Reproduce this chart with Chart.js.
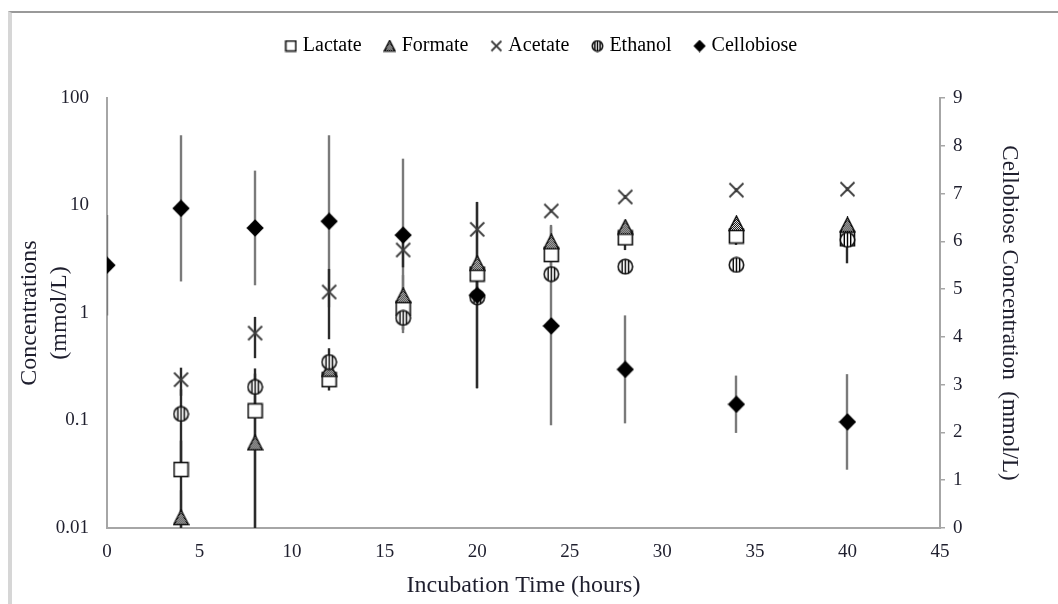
<!DOCTYPE html>
<html>
<head>
<meta charset="utf-8">
<script src="https://cdn.jsdelivr.net/npm/chart.js@4.4.1/dist/chart.umd.min.js"></script>
<style>
    html, body { margin: 0; padding: 0; background: #fff; }
    #wrap { position: relative; width: 1058px; height: 604px; overflow: hidden; }
    #frame {
        position: absolute; left: 8px; top: 11px; right: -4px; bottom: -4px;
        border-top: 2px solid #999; border-left: 4px solid #d6d6d6;
    }
    #chart { position: absolute; left: 0; top: 0; }
</style>
</head>
<body>
<div id="wrap">
    <div id="frame"></div>
    <canvas id="chart" width="1058" height="604"></canvas>
</div>
<script>
// sampling times (hours)
const times = [0, 4, 8, 12, 16, 20, 24, 28, 34, 40];

// fermentation products, mmol/L (left, log axis)
const lactate = [null, 0.035, 0.123, 0.24, 1.1, 2.3, 3.5, 5.0, 5.2, 4.9];
const formate = [null, 0.0125, 0.062, 0.3, 1.45, 2.9, 4.6, 6.3, 6.8, 6.6];
const acetate = [null, 0.24, 0.65, 1.57, 3.86, 6.0, 8.9, 12.0, 13.9, 14.2];
const ethanol = [null, 0.115, 0.205, 0.35, 0.9, 1.4, 2.3, 2.7, 2.8, 4.8];

const lactateErr = [null, 0.03, 0.15, 0.05, 0.3, 0.3, 0.5, 1.15, 0.9, 0.3];
const formateErr = [null, 0.01, 0.07, 0.05, 0.8, 0.4, 2.0, 0.4, 0.4, 0.4];
const acetateErr = [null, 0.07, 0.27, 1.0, 1.2, 4.8, 0.3, 0.5, 0.6, 0.6];
const ethanolErr = [null, 0.08, 0.1, 0.12, 0.2, 1.2, 0.3, 0.15, 0.15, 1.9];

// cellobiose, mmol/L (right, linear axis)
const cellobiose = [5.5, 6.69, 6.28, 6.42, 6.13, 4.87, 4.23, 3.32, 2.59, 2.22];
const cellobioseErr = [1.05, 1.53, 1.2, 1.8, 1.6, 1.95, 2.08, 1.13, 0.6, 1.0];

const concTicks = [0.01, 0.1, 1, 10, 100];

const serif = "'Liberation Serif', 'Times New Roman', serif";
const textColor = '#1f1f2e';
const axisColor = '#a6a6a6';

// little canvases used as point styles
function marker(kind, s) {
    const c = document.createElement('canvas');
    c.width = c.height = s + 2;
    const g = c.getContext('2d');
    const m = (s + 2) / 2;
    g.strokeStyle = '#111';
    g.lineWidth = 1.6;
    if (kind === 'square') {
        g.fillStyle = '#fff';
        g.fillRect(1.5, 1.5, s - 1, s - 1);
        g.strokeRect(1.5, 1.5, s - 1, s - 1);
    } else if (kind === 'triangle') {
        const tile = document.createElement('canvas');
        tile.width = tile.height = 2;
        const t = tile.getContext('2d');
        t.fillStyle = '#fff'; t.fillRect(0, 0, 2, 2);
        t.fillStyle = '#000'; t.fillRect(0, 0, 1, 1); t.fillRect(1, 1, 1, 1);
        g.beginPath();
        g.moveTo(m, 1.2);
        g.lineTo(s + 0.8, s + 0.5);
        g.lineTo(1.2, s + 0.5);
        g.closePath();
        g.fillStyle = g.createPattern(tile, 'repeat');
        g.fill();
        g.stroke();
    } else if (kind === 'cross') {
        g.strokeStyle = '#3c3c3c';
        g.lineWidth = 1.8;
        g.beginPath();
        g.moveTo(1.5, 1.5); g.lineTo(s + 0.5, s + 0.5);
        g.moveTo(s + 0.5, 1.5); g.lineTo(1.5, s + 0.5);
        g.stroke();
    } else if (kind === 'circle') {
        const r = s / 2 - 0.3;
        g.beginPath();
        g.arc(m, m, r, 0, Math.PI * 2);
        g.fillStyle = '#fff';
        g.fill();
        g.save();
        g.clip();
        g.fillStyle = '#000';
        const gap = s > 13 ? 3.2 : 2.6;
        [-gap, 0, gap].forEach(d => g.fillRect(m + d - 0.7, 0, 1.4, s + 2));
        g.restore();
        g.stroke();
    } else if (kind === 'diamond') {
        g.fillStyle = '#000';
        g.beginPath();
        g.moveTo(m, 0.3);
        g.lineTo(s + 1.7, m);
        g.lineTo(m, s + 1.7);
        g.lineTo(0.3, m);
        g.closePath();
        g.fill();
    }
    return c;
}

function points(values) {
    return times.map((t, i) => ({ x: t, y: values[i] })).filter(p => p.y !== null);
}

const series = [
    { label: 'Lactate', values: lactate, errors: lactateErr, kind: 'square', size: 15, axis: 'y', order: 2, errColor: '#2b2b2b' },
    { label: 'Formate', values: formate, errors: formateErr, kind: 'triangle', size: 15, axis: 'y', order: 1, errColor: '#777' },
    { label: 'Acetate', values: acetate, errors: acetateErr, kind: 'cross', size: 15, axis: 'y', order: 3, errColor: '#2b2b2b' },
    { label: 'Ethanol', values: ethanol, errors: ethanolErr, kind: 'circle', size: 15, axis: 'y', order: 0, errColor: '#2b2b2b' },
    { label: 'Cellobiose', values: cellobiose, errors: cellobioseErr, kind: 'diamond', size: 16, axis: 'y1', order: -1, errColor: '#7a7a7a' }
];

const datasets = series.map(s => ({
    label: s.label,
    data: points(s.values),
    yAxisID: s.axis,
    order: s.order,
    pointStyle: marker(s.kind, s.size),
    pointRadius: 8,
    showLine: false,
    values: s.values,
    errors: s.errors,
    errColor: s.errColor
}));

// vertical error bars, drawn under the markers
const errorBars = {
    id: 'errorBars',
    beforeDatasetsDraw(chart) {
        const ctx = chart.ctx;
        const xs = chart.scales.x;
        const area = chart.chartArea;
        ctx.save();
        ctx.beginPath();
        ctx.rect(area.left, area.top, area.right - area.left, area.bottom - area.top);
        ctx.clip();
        ctx.lineWidth = 2.4;
        for (let d = chart.data.datasets.length - 1; d >= 0; d--) {
            const ds = chart.data.datasets[d];
            const ys = chart.scales[ds.yAxisID];
            ctx.strokeStyle = ds.errColor;
            ds.values.forEach((v, i) => {
                const e = ds.errors[i];
                if (v === null || e === null) return;
                const px = Math.round(xs.getPixelForValue(times[i]));
                const lo = Math.max(v - e, ys.min);
                ctx.beginPath();
                ctx.moveTo(px, ys.getPixelForValue(v + e));
                ctx.lineTo(px, ys.getPixelForValue(lo));
                ctx.stroke();
            });
        }
        ctx.restore();
    }
};

// extra room under the legend, and nudge it right a bit
const legendSpace = {
    id: 'legendSpace',
    beforeLayout(chart) {
        const lg = chart.legend;
        if (lg && !lg._padded) {
            const fit = lg.fit;
            lg.fit = function () { fit.call(this); this.height += 32; };
            lg._padded = true;
        }
    },
    afterLayout(chart) {
        chart.legend.left += 14;
        chart.legend.right += 14;
    }
};

new Chart(document.getElementById('chart'), {
    type: 'scatter',
    data: { datasets: datasets },
    plugins: [errorBars, legendSpace],
    options: {
        responsive: false,
        animation: false,
        events: [],
        layout: { padding: { top: 10, left: 10, right: 10, bottom: 0 } },
        plugins: {
            tooltip: { enabled: false },
            legend: {
                position: 'top',
                labels: {
                    usePointStyle: true,
                    boxWidth: 4,
                    padding: 26,
                    color: textColor,
                    font: { family: serif, size: 20 },
                    generateLabels: function (chart) {
                        return series.map((s, i) => ({
                            text: s.label,
                            pointStyle: marker(s.kind, 11),
                            fillStyle: '#000',
                            strokeStyle: '#000',
                            lineWidth: 0,
                            hidden: false,
                            datasetIndex: i
                        }));
                    }
                }
            }
        },
        scales: {
            x: {
                type: 'linear',
                min: 0,
                max: 45,
                afterFit: s => { s.height = 76; },
                ticks: { stepSize: 5, padding: 13, color: textColor, font: { family: serif, size: 19 } },
                grid: { display: false, drawTicks: false },
                border: { color: axisColor, width: 2 },
                title: {
                    display: true,
                    text: 'Incubation Time (hours)',
                    color: textColor,
                    font: { family: serif, size: 24 },
                    padding: { top: 0, bottom: 4 }
                }
            },
            y: {
                type: 'logarithmic',
                position: 'left',
                min: 0.01,
                max: 100,
                afterFit: s => { s.width = 97; },
                afterBuildTicks: s => { s.ticks = concTicks.map(v => ({ value: v })); },
                ticks: {
                    padding: 18,
                    color: textColor,
                    font: { family: serif, size: 19 },
                    callback: v => String(v)
                },
                grid: { display: false, drawTicks: false },
                border: { color: axisColor, width: 2 },
                title: {
                    display: true,
                    text: ['Concentrations', '(mmol/L)'],
                    color: textColor,
                    font: { family: serif, size: 24, lineHeight: 1.25 },
                    padding: { top: 5, bottom: 0 }
                }
            },
            y1: {
                type: 'linear',
                position: 'right',
                min: 0,
                max: 9,
                afterFit: s => { s.width = 108; },
                ticks: { stepSize: 1, padding: 8, color: textColor, font: { family: serif, size: 19 } },
                grid: { display: true, drawOnChartArea: false, drawTicks: true, tickLength: 5, color: axisColor, lineWidth: 1.5 },
                border: { color: axisColor, width: 2 },
                title: {
                    display: true,
                    text: 'Cellobiose Concentration  (mmol/L)',
                    color: textColor,
                    font: { family: serif, size: 23 },
                    padding: { top: 25, bottom: 0 }
                }
            }
        }
    }
});
</script>
</body>
</html>
